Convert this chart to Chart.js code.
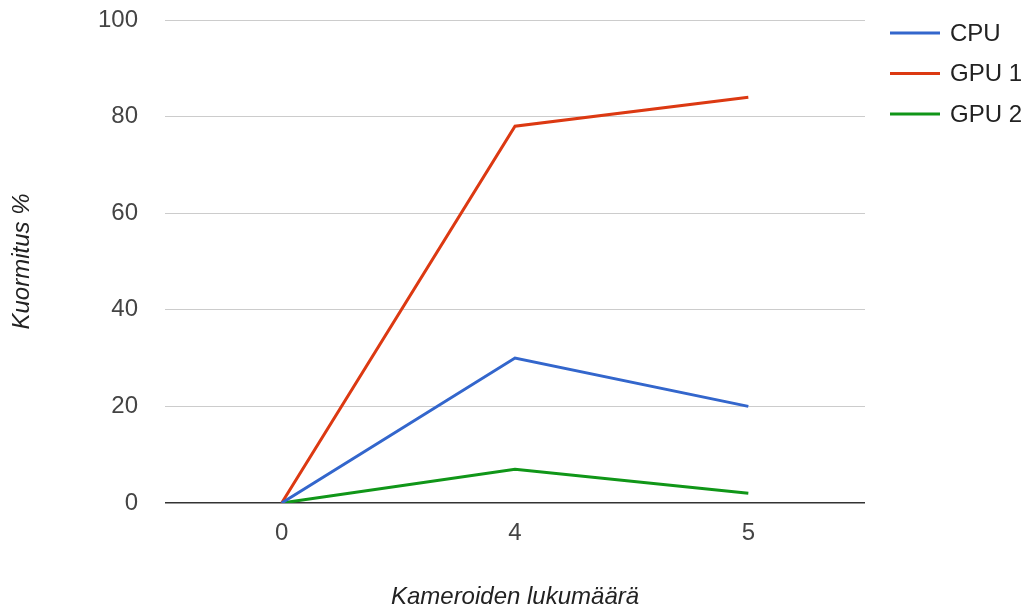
<!DOCTYPE html>
<html>
<head>
<meta charset="utf-8">
<script src="https://cdn.jsdelivr.net/npm/chart.js@4"></script>
<style>
  html, body { margin: 0; padding: 0; background: #fff; }
  #wrap { width: 1036px; height: 609px; }
</style>
</head>
<body>
<div id="wrap"><canvas id="loadChart" width="1036" height="609"></canvas></div>
<script>
const cameraCounts = ["0", "4", "5"];
const cpuLoad = [0, 30, 20];
const gpu1Load = [0, 78, 84];
const gpu2Load = [0, 7, 2];
const yTicks = [0, 20, 40, 60, 80, 100];

const FONT = "'Liberation Sans', Arial, sans-serif";

// simple legend on the right, Google Charts style
const sideLegend = {
  id: "sideLegend",
  afterDraw(chart) {
    const ctx = chart.ctx;
    const x0 = chart.chartArea.right + 25;
    ctx.save();
    ctx.font = "24px " + FONT;
    ctx.textBaseline = "middle";
    chart.data.datasets.forEach((ds, i) => {
      const y = 33 + i * 40.5;
      ctx.strokeStyle = ds.borderColor;
      ctx.lineWidth = 3;
      ctx.beginPath();
      ctx.moveTo(x0, y);
      ctx.lineTo(x0 + 50, y);
      ctx.stroke();
      ctx.fillStyle = "#222";
      ctx.fillText(ds.label, x0 + 60, y + 1);
    });
    ctx.restore();
  }
};

new Chart(document.getElementById("loadChart"), {
  type: "line",
  data: {
    labels: cameraCounts,
    datasets: [
      { label: "CPU", data: cpuLoad, borderColor: "#3366cc" },
      { label: "GPU 1", data: gpu1Load, borderColor: "#dc3912" },
      { label: "GPU 2", data: gpu2Load, borderColor: "#109618" }
    ]
  },
  options: {
    responsive: false,
    animation: false,
    layout: { padding: { top: 20, right: 171, bottom: 0, left: 0 } },
    elements: {
      line: { borderWidth: 3, tension: 0 },
      point: { radius: 0 }
    },
    plugins: {
      legend: { display: false },
      tooltip: { enabled: false }
    },
    scales: {
      x: {
        offset: true,
        grid: { display: false, drawTicks: false },
        border: { display: false },
        ticks: { color: "#444", font: { family: FONT, size: 24 }, padding: 16 },
        title: {
          display: true,
          text: "Kameroiden lukumäärä",
          color: "#222",
          font: { family: FONT, size: 24, style: "italic", lineHeight: 1 },
          padding: { top: 0, bottom: 0 }
        },
        afterFit(scale) {
          scale.height = 106;
          scale.paddingLeft = 0;
          scale.paddingRight = 0;
        }
      },
      y: {
        min: 0,
        max: 100,
        afterBuildTicks(scale) { scale.ticks = yTicks.map(v => ({ value: v })); },
        grid: {
          drawTicks: false,
          color: c => (c.tick && c.tick.value === 0 ? "#333" : "#ccc"),
          lineWidth: c => (c.tick && c.tick.value === 0 ? 1.5 : 1)
        },
        border: { display: false },
        ticks: { color: "#444", font: { family: FONT, size: 24 }, padding: 27 },
        title: {
          display: true,
          text: "Kuormitus %",
          color: "#222",
          font: { family: FONT, size: 24, style: "italic", lineHeight: 1 },
          padding: { top: 10, bottom: 0 }
        },
        afterFit(scale) {
          scale.width = 165;
          scale.paddingTop = 0;
          scale.paddingBottom = 0;
        }
      }
    }
  },
  plugins: [sideLegend]
});
</script>
</body>
</html>
